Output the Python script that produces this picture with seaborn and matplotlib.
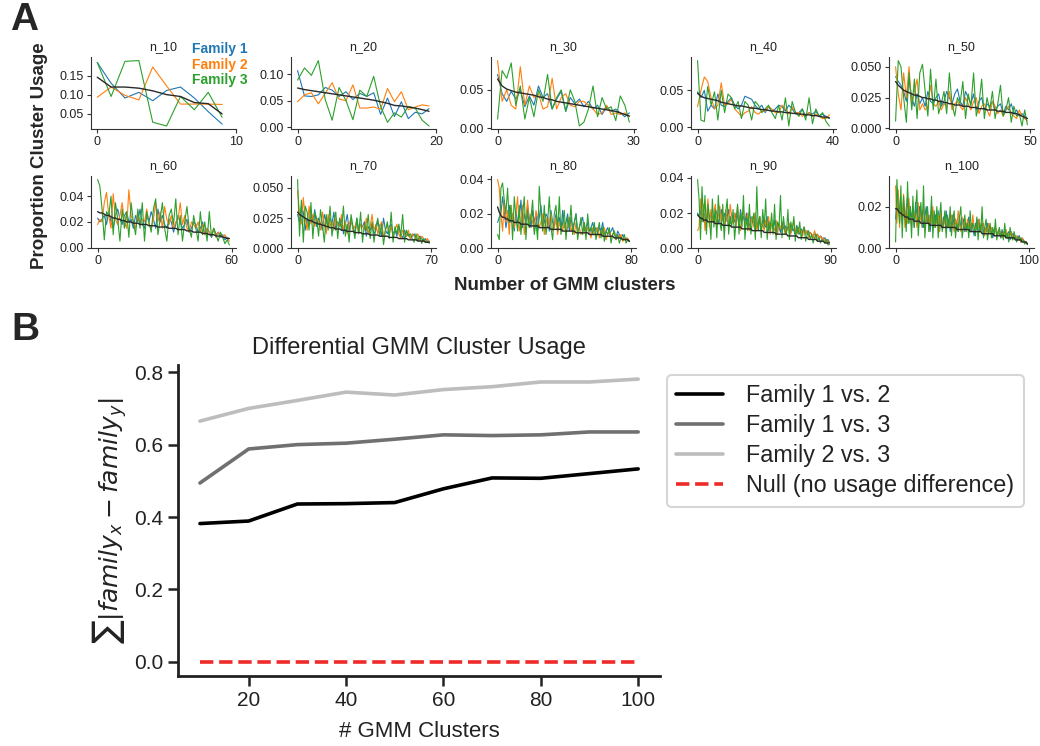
import numpy as np
import matplotlib
matplotlib.use("Agg")
import matplotlib.pyplot as plt
import seaborn as sns

# =====================================================================
# PANEL A DATA: proportion of cluster usage per family (values x 1000)
# =====================================================================
panel_sizes = [10, 20, 30, 40, 50, 60, 70, 80, 90, 100]
family_names = ["Family 1", "Family 2", "Family 3"]

f1_10 = [185, 130, 91, 106, 84, 111, 120, 91, 55, 22]
f2_10 = [93, 120, 98, 86, 173, 123, 75, 75, 75, 74]
f3_10 = [185, 95, 188, 190, 27, 17, 95, 60, 106, 40]
avg_10 = [146, 120, 120, 117, 110, 100, 95, 79, 76, 49]

f1_20 = [107, 59, 58, 61, 75, 70, 58, 67, 52, 64,
         58, 65, 24, 55, 20, 48, 16, 28, 25, 35]
f2_20 = [48, 61, 65, 44, 64, 84, 53, 50, 80, 36,
         36, 38, 34, 73, 48, 67, 33, 38, 42, 40]
f3_20 = [89, 112, 98, 126, 52, 13, 75, 50, 14, 70,
         58, 96, 39, 9, 27, 19, 39, 36, 13, 2]
avg_20 = [74, 71, 69, 67, 65, 63, 61, 59, 57, 55,
          53, 51, 48, 45, 41, 40, 38, 36, 33, 30]

f1_30 = [70, 45, 35, 48, 38, 50, 28, 42, 30, 55,
         40, 45, 25, 38, 48, 22, 40, 32, 38, 28,
         35, 25, 30, 18, 28, 22, 25, 20, 15, 20]
f2_30 = [88, 35, 50, 30, 25, 80, 30, 55, 40, 45,
         25, 28, 65, 25, 40, 45, 30, 28, 35, 35,
         30, 25, 18, 20, 30, 18, 20, 18, 20, 15]
f3_30 = [12, 75, 65, 85, 30, 55, 12, 40, 15, 50,
         35, 70, 25, 40, 50, 22, 50, 35, 3, 8,
         25, 55, 15, 40, 25, 28, 10, 42, 30, 8]
avg_30 = [64, 55, 51, 49, 47, 46, 45, 44, 43, 41,
          40, 38, 37, 35, 34, 33, 32, 31, 30, 29,
          28, 27, 26, 25, 24, 23, 22, 20, 18, 16]

f1_40 = [48, 40, 50, 22, 30, 25, 45, 30, 28, 35,
         40, 30, 25, 30, 42, 40, 38, 30, 25, 30,
         20, 28, 22, 25, 30, 28, 22, 30, 25, 18,
         20, 25, 15, 20, 18, 22, 15, 18, 15, 12]
f2_40 = [28, 50, 68, 62, 40, 25, 30, 60, 30, 32,
         38, 25, 20, 15, 20, 22, 28, 20, 18, 22,
         22, 28, 25, 20, 20, 30, 25, 18, 28, 20,
         20, 15, 18, 20, 15, 18, 15, 12, 12, 17]
f3_40 = [90, 10, 8, 55, 30, 48, 10, 50, 20, 45,
         40, 25, 35, 12, 35, 30, 10, 35, 30, 20,
         25, 30, 20, 12, 30, 10, 40, 2, 35, 20,
         15, 25, 10, 40, 5, 25, 15, 20, 8, 2]
avg_40 = [46, 42, 40, 39, 38, 37, 36, 34, 33, 32,
          31, 30, 29, 29, 28, 27, 26, 26, 25, 24,
          24, 23, 22, 22, 21, 21, 20, 20, 19, 19,
          18, 18, 17, 17, 16, 16, 15, 14, 14, 13]

f1_50 = [42, 38, 35, 30, 22, 40, 25, 18, 28, 20,
         25, 18, 30, 22, 20, 25, 28, 18, 22, 30,
         25, 20, 28, 32, 22, 18, 30, 25, 20, 28,
         15, 22, 25, 15, 20, 18, 22, 15, 18, 20,
         12, 18, 15, 20, 12, 15, 10, 12, 10, 8]
f2_50 = [50, 28, 15, 45, 25, 50, 18, 30, 40, 15,
         20, 15, 18, 35, 20, 18, 22, 15, 20, 18,
         30, 15, 20, 22, 18, 15, 25, 20, 15, 22,
         25, 12, 18, 20, 15, 10, 22, 18, 12, 15,
         10, 15, 18, 12, 10, 8, 15, 10, 8, 6]
f3_50 = [6, 55, 50, 25, 5, 45, 15, 40, 8, 45,
         52, 30, 10, 48, 15, 40, 12, 20, 30, 12,
         45, 20, 10, 25, 20, 38, 8, 28, 18, 45,
         10, 20, 40, 8, 25, 15, 30, 8, 20, 35,
         10, 15, 25, 5, 18, 10, 12, 2, 15, 3]
avg_50 = [38, 35, 33, 31, 30, 29, 28, 27, 27, 26,
          25, 25, 24, 24, 23, 23, 22, 22, 21, 21,
          20, 20, 19, 19, 19, 18, 18, 18, 17, 17,
          17, 16, 16, 16, 15, 15, 15, 15, 14, 14,
          14, 13, 13, 13, 12, 12, 11, 10, 9, 8]

f1_60 = [23, 20, 22, 25, 18, 28, 20, 15, 25, 30,
         22, 18, 25, 28, 20, 22, 15, 25, 20, 30,
         18, 15, 25, 20, 28, 22, 15, 30, 20, 25,
         18, 15, 22, 20, 12, 18, 25, 20, 15, 18,
         22, 12, 15, 20, 18, 12, 15, 20, 10, 15,
         12, 8, 15, 10, 12, 8, 10, 6, 8, 7]
f2_60 = [18, 22, 20, 35, 43, 25, 15, 42, 22, 18,
         25, 35, 20, 15, 45, 25, 20, 15, 28, 18,
         22, 20, 30, 18, 15, 22, 35, 20, 28, 15,
         32, 22, 18, 25, 15, 20, 22, 35, 18, 25,
         15, 12, 20, 18, 15, 20, 12, 18, 10, 15,
         12, 10, 15, 8, 12, 10, 8, 10, 7, 5]
f3_60 = [53, 48, 30, 6, 28, 25, 40, 10, 35, 22,
         5, 30, 15, 28, 8, 35, 20, 10, 30, 15,
         35, 5, 28, 20, 12, 30, 38, 10, 22, 35,
         15, 5, 25, 30, 18, 38, 10, 25, 5, 20,
         32, 15, 8, 25, 15, 5, 28, 10, 20, 5,
         28, 8, 15, 10, 5, 12, 8, 3, 6, 2]
avg_60 = [28, 27, 27, 26, 25, 25, 24, 23, 23, 22,
          22, 21, 21, 20, 20, 20, 19, 19, 19, 18,
          18, 18, 18, 17, 17, 17, 17, 16, 16, 16,
          16, 16, 15, 15, 15, 15, 14, 14, 14, 14,
          13, 13, 13, 12, 12, 12, 12, 11, 11, 11,
          10, 10, 10, 9, 9, 9, 8, 8, 7, 7]

f1_70 = [28, 22, 35, 30, 15, 25, 20, 28, 22, 32,
         18, 25, 20, 15, 28, 22, 18, 25, 20, 30,
         15, 22, 18, 25, 12, 20, 28, 15, 22, 18,
         12, 25, 15, 20, 18, 22, 10, 18, 15, 20,
         12, 15, 22, 18, 10, 25, 15, 12, 18, 20,
         12, 15, 10, 18, 12, 8, 15, 10, 12, 8,
         10, 12, 8, 6, 10, 8, 6, 8, 5, 6]
f2_70 = [48, 30, 20, 42, 25, 15, 35, 20, 28, 18,
         25, 22, 15, 30, 20, 12, 28, 18, 22, 15,
         25, 20, 18, 28, 15, 22, 12, 20, 25, 15,
         18, 22, 12, 20, 18, 15, 25, 12, 18, 28,
         15, 20, 12, 18, 22, 10, 15, 20, 12, 18,
         10, 15, 20, 12, 8, 15, 12, 10, 15, 8,
         12, 10, 8, 12, 6, 10, 8, 6, 8, 5]
f3_70 = [57, 10, 40, 5, 35, 30, 15, 38, 8, 30,
         25, 10, 32, 20, 5, 28, 15, 35, 10, 22,
         30, 8, 25, 15, 35, 10, 20, 5, 28, 18,
         8, 25, 12, 30, 5, 20, 15, 28, 8, 22,
         5, 18, 25, 10, 20, 3, 15, 22, 8, 30,
         5, 18, 12, 20, 10, 28, 5, 15, 10, 12,
         8, 5, 12, 6, 10, 4, 8, 5, 6, 4]
avg_70 = [30, 28, 27, 26, 25, 24, 23, 23, 22, 21,
          21, 20, 20, 19, 19, 18, 18, 17, 17, 17,
          16, 16, 16, 15, 15, 15, 14, 14, 14, 14,
          13, 13, 13, 13, 12, 12, 12, 12, 11, 11,
          11, 11, 11, 10, 10, 10, 10, 10, 9, 9,
          9, 9, 9, 8, 8, 8, 8, 8, 7, 7,
          7, 7, 7, 6, 6, 6, 6, 5, 5, 5]

f1_80 = [15, 18, 20, 30, 22, 12, 18, 25, 15, 20,
         10, 22, 15, 18, 28, 12, 20, 15, 25, 18,
         12, 22, 15, 20, 10, 18, 25, 12, 15, 20,
         18, 10, 22, 15, 12, 20, 15, 18, 10, 22,
         12, 15, 20, 10, 18, 12, 15, 20, 10, 12,
         15, 18, 10, 12, 15, 8, 12, 15, 10, 12,
         8, 12, 10, 15, 8, 10, 12, 8, 10, 12,
         8, 6, 10, 8, 6, 8, 5, 6, 5, 4]
f2_80 = [40, 35, 20, 10, 28, 15, 22, 8, 25, 18,
         12, 20, 30, 10, 15, 25, 8, 18, 28, 12,
         20, 15, 10, 22, 18, 12, 15, 20, 8, 18,
         12, 15, 20, 10, 12, 18, 8, 15, 12, 10,
         15, 8, 12, 18, 10, 12, 8, 15, 10, 12,
         8, 10, 15, 8, 12, 10, 6, 12, 8, 10,
         12, 6, 10, 8, 12, 5, 8, 10, 6, 8,
         10, 5, 8, 6, 8, 4, 6, 5, 6, 4]
f3_80 = [8, 5, 35, 38, 28, 20, 35, 15, 25, 5,
         30, 18, 10, 25, 8, 20, 30, 5, 22, 12,
         18, 28, 8, 15, 5, 36, 20, 10, 25, 8,
         15, 30, 12, 5, 20, 25, 10, 30, 8, 15,
         22, 5, 18, 12, 25, 8, 15, 20, 5, 12,
         18, 8, 15, 5, 20, 10, 12, 8, 15, 5,
         10, 15, 6, 12, 4, 10, 8, 12, 3, 8,
         10, 5, 8, 3, 6, 5, 8, 3, 5, 4]
avg_80 = [24, 21, 19, 18, 18, 17, 17, 16, 16, 16,
          15, 15, 15, 15, 14, 14, 14, 14, 14, 13,
          13, 13, 13, 13, 13, 12, 12, 12, 12, 12,
          12, 12, 11, 11, 11, 11, 11, 11, 11, 10,
          10, 10, 10, 10, 10, 10, 10, 9, 9, 9,
          9, 9, 9, 9, 9, 8, 8, 8, 8, 8,
          8, 8, 8, 7, 7, 7, 7, 7, 7, 7,
          6, 6, 6, 6, 6, 5, 5, 5, 5, 4]

f1_90 = [20, 18, 22, 15, 20, 18, 14, 22, 16, 20,
         18, 15, 22, 20, 14, 18, 22, 16, 20, 15,
         18, 22, 14, 20, 17, 15, 20, 18, 13, 22,
         16, 18, 14, 20, 15, 12, 18, 16, 14, 20,
         12, 15, 18, 10, 16, 14, 12, 18, 10, 15,
         13, 11, 16, 10, 14, 12, 9, 15, 11, 13,
         10, 12, 14, 9, 12, 10, 8, 13, 10, 8,
         11, 9, 12, 8, 10, 7, 9, 8, 6, 9,
         7, 8, 5, 7, 6, 5, 6, 4, 5, 3]
f2_90 = [10, 12, 28, 15, 25, 10, 18, 28, 12, 22,
         15, 20, 25, 12, 18, 24, 14, 20, 10, 22,
         16, 12, 25, 18, 14, 20, 12, 24, 16, 10,
         18, 22, 12, 16, 20, 10, 14, 18, 12, 20,
         10, 15, 18, 12, 14, 10, 16, 12, 18, 8,
         14, 12, 10, 16, 8, 14, 12, 10, 15, 8,
         12, 10, 14, 8, 12, 16, 10, 8, 12, 9,
         10, 7, 12, 8, 10, 6, 9, 8, 6, 10,
         5, 8, 6, 7, 5, 6, 4, 5, 3, 4]
f3_90 = [39, 28, 5, 35, 15, 30, 8, 25, 18, 5,
         28, 12, 22, 6, 30, 15, 10, 25, 5, 20,
         28, 8, 18, 12, 22, 5, 15, 25, 8, 20,
         12, 30, 5, 18, 10, 25, 8, 15, 20, 5,
         35, 10, 18, 6, 22, 12, 28, 5, 15, 10,
         20, 8, 25, 5, 15, 12, 30, 6, 18, 10,
         8, 22, 5, 15, 10, 18, 4, 12, 8, 15,
         5, 10, 12, 4, 8, 10, 5, 8, 3, 6,
         8, 4, 6, 3, 5, 4, 3, 5, 2, 2]
avg_90 = [19, 18, 17, 17, 16, 16, 16, 15, 15, 15,
          15, 15, 14, 14, 14, 14, 14, 13, 13, 13,
          13, 13, 13, 12, 12, 12, 12, 12, 12, 12,
          11, 11, 11, 11, 11, 11, 11, 10, 10, 10,
          10, 10, 10, 10, 10, 9, 9, 9, 9, 9,
          9, 9, 9, 8, 8, 8, 8, 8, 8, 8,
          8, 7, 7, 7, 7, 7, 7, 7, 6, 6,
          6, 6, 6, 6, 6, 5, 5, 5, 5, 5,
          5, 4, 4, 4, 4, 4, 3, 3, 3, 3]

f1_100 = [14, 22, 26, 18, 20, 12, 22, 15, 18, 25,
          12, 20, 15, 18, 10, 22, 16, 12, 20, 14,
          18, 10, 15, 20, 12, 16, 8, 18, 14, 10,
          16, 12, 18, 8, 14, 10, 15, 12, 18, 10,
          14, 8, 12, 16, 10, 14, 12, 8, 15, 10,
          12, 14, 8, 12, 10, 15, 8, 12, 10, 6,
          12, 9, 14, 8, 10, 12, 6, 10, 8, 12,
          7, 10, 8, 5, 9, 10, 6, 8, 7, 5,
          9, 6, 8, 5, 7, 8, 4, 6, 7, 5,
          6, 4, 5, 6, 3, 5, 4, 3, 3, 2]
f2_100 = [30, 12, 28, 10, 22, 15, 26, 10, 20, 12,
          24, 15, 10, 20, 14, 18, 10, 22, 12, 16,
          10, 20, 14, 12, 18, 8, 16, 12, 20, 10,
          14, 12, 16, 8, 18, 12, 10, 15, 8, 14,
          12, 10, 16, 12, 8, 14, 10, 18, 12, 8,
          15, 10, 12, 8, 14, 10, 12, 8, 16, 10,
          8, 12, 10, 14, 8, 10, 12, 6, 10, 8,
          12, 7, 10, 9, 6, 10, 8, 6, 9, 7,
          5, 8, 6, 9, 5, 7, 6, 8, 4, 6,
          5, 6, 4, 5, 3, 5, 4, 3, 3, 2]
f3_100 = [3, 33, 20, 12, 30, 5, 25, 15, 8, 32,
          12, 20, 5, 25, 10, 18, 28, 6, 15, 22,
          10, 30, 5, 15, 20, 8, 12, 25, 5, 18,
          10, 20, 5, 15, 22, 8, 12, 18, 5, 16,
          10, 20, 6, 14, 18, 5, 12, 8, 15, 20,
          5, 10, 16, 8, 12, 5, 18, 8, 12, 10,
          6, 15, 4, 12, 8, 20, 5, 10, 14, 4,
          8, 12, 5, 10, 6, 14, 4, 8, 10, 5,
          8, 4, 12, 5, 7, 3, 10, 6, 4, 8,
          5, 3, 6, 4, 5, 3, 4, 2, 3, 2]
avg_100 = [19, 19, 18, 17, 17, 16, 16, 15, 15, 15,
           14, 14, 14, 14, 13, 13, 13, 13, 13, 12,
           12, 12, 12, 12, 12, 12, 11, 11, 11, 11,
           11, 11, 11, 11, 11, 10, 10, 10, 10, 10,
           10, 10, 10, 10, 10, 10, 9, 9, 9, 9,
           9, 9, 9, 9, 9, 9, 8, 8, 8, 8,
           8, 8, 8, 8, 8, 7, 7, 7, 7, 7,
           7, 7, 7, 7, 6, 6, 6, 6, 6, 6,
           6, 6, 6, 5, 5, 5, 5, 5, 5, 5,
           4, 4, 4, 4, 4, 3, 3, 3, 3, 2]

panel_yticks = [[0.05, 0.10, 0.15], [0.00, 0.05, 0.10], [0.00, 0.05], [0.00, 0.05],
                [0.000, 0.025, 0.050], [0.00, 0.02, 0.04], [0.000, 0.025, 0.050],
                [0.00, 0.02, 0.04], [0.00, 0.02, 0.04], [0.00, 0.02]]

# =====================================================================
# PANEL B DATA: summed absolute usage difference between families
# =====================================================================
n_clusters = [10, 20, 30, 40, 50, 60, 70, 80, 90, 100]
diff_1v2 = [0.382, 0.389, 0.436, 0.437, 0.440, 0.478, 0.508, 0.507, 0.520, 0.533]
diff_1v3 = [0.494, 0.588, 0.600, 0.604, 0.615, 0.627, 0.625, 0.627, 0.635, 0.635]
diff_2v3 = [0.665, 0.700, 0.722, 0.745, 0.737, 0.752, 0.760, 0.773, 0.773, 0.781]
null_diff = [0, 0, 0, 0, 0, 0, 0, 0, 0, 0]
pair_labels = ["Family 1 vs. 2", "Family 1 vs. 3", "Family 2 vs. 3",
               "Null (no usage difference)"]

panel_series = [
    (f1_10, f2_10, f3_10, avg_10), (f1_20, f2_20, f3_20, avg_20),
    (f1_30, f2_30, f3_30, avg_30), (f1_40, f2_40, f3_40, avg_40),
    (f1_50, f2_50, f3_50, avg_50), (f1_60, f2_60, f3_60, avg_60),
    (f1_70, f2_70, f3_70, avg_70), (f1_80, f2_80, f3_80, avg_80),
    (f1_90, f2_90, f3_90, avg_90), (f1_100, f2_100, f3_100, avg_100),
]

# =====================================================================
# FIGURE
# =====================================================================
sns.set_theme(style="ticks")
plt.rcParams['font.family'] = ['Liberation Sans', 'DejaVu Sans']
plt.rcParams['axes.edgecolor'] = '#333333'

fig = plt.figure(figsize=(10.4, 7.46), dpi=100)
fam_colors = ['#1f77b4', '#ff7f0e', '#2ca02c']

col_left = [0.0875, 0.2798, 0.4721, 0.6644, 0.8548]
row_bottom = [0.8267, 0.6672]

first_ax = None
for i, n in enumerate(panel_sizes):
    ax = fig.add_axes([col_left[i % 5], row_bottom[i // 5], 0.1394, 0.0965])
    *fams, avg = panel_series[i]
    for vals, c, name in zip(fams, fam_colors, family_names):
        y = np.array(vals) / 1000
        sns.lineplot(x=np.arange(len(y)), y=y, ax=ax, color=c, lw=0.8,
                     label=name if i == 0 else None, legend=False)
    ya = np.array(avg) / 1000
    sns.lineplot(x=np.arange(len(ya)), y=ya, ax=ax, color='#2a2a2a', lw=1.0, legend=False)
    ax.set_xticks([0, n])
    ax.set_yticks(panel_yticks[i])
    ax.set_xlabel('')
    ax.set_ylabel('')
    ax.set_title(f"n_{n}", fontsize=9, pad=5, color='#222222')
    ax.tick_params(labelsize=9, length=3, width=0.8, pad=2, colors='#333333',
                   labelcolor='#222222')
    for s in ax.spines.values():
        s.set_linewidth(0.8)
    sns.despine(ax=ax)
    if i == 0:
        first_ax = ax

# family colour key, text only
first_ax.legend(loc='upper left', bbox_to_anchor=(192 / 1040, 1 - 42 / 746),
                bbox_transform=fig.transFigure, frameon=False, handlelength=0,
                handletextpad=0, labelcolor='linecolor', borderpad=0,
                borderaxespad=0, labelspacing=0.12,
                prop={'weight': 'bold', 'size': 10})
for h in first_ax.get_legend().legend_handles:
    h.set_visible(False)

fig.text(24 / 1040, 1 - 20 / 746, 'A', fontsize=28, fontweight='bold', ha='center', va='center')
fig.text(40 / 1040, 1 - 156 / 746, 'Proportion Cluster Usage', fontsize=13.5,
         fontweight='bold', rotation=90, ha='center', va='center')
fig.text(565 / 1040, 1 - 286 / 746, 'Number of GMM clusters', fontsize=13.5,
         fontweight='bold', ha='center', va='center')
fig.text(25 / 1040, 1 - 330 / 746, 'B', fontsize=28, fontweight='bold', ha='center', va='center')

# --- Panel B ---
axb = fig.add_axes([0.1712, 0.0938, 0.4635, 0.417])
pair_colors = ['black', '#707070', '#bdbdbd']
for vals, c, lab in zip([diff_1v2, diff_1v3, diff_2v3], pair_colors, pair_labels):
    sns.lineplot(x=n_clusters, y=vals, ax=axb, color=c, lw=2.6, label=lab)
sns.lineplot(x=n_clusters, y=null_diff, ax=axb, color='#ee2a2a', lw=2.6,
             linestyle='--', label=pair_labels[3])

axb.set_yticks([0.0, 0.2, 0.4, 0.6, 0.8])
axb.set_xticks([20, 40, 60, 80, 100])
axb.set_title('Differential GMM Cluster Usage', fontsize=17, color='#222222', pad=8)
axb.set_xlabel('# GMM Clusters', fontsize=16, color='#222222', labelpad=8)
axb.set_ylabel(r'$\sum|family_x - family_y|$', fontsize=18, color='#222222', labelpad=4)
axb.tick_params(labelsize=15, length=7, width=1.8, colors='#222222')
for s in axb.spines.values():
    s.set_linewidth(2.0)
    s.set_color('#222222')
sns.despine(ax=axb)

leg = axb.legend(loc='upper left', bbox_to_anchor=(667 / 1040, 1 - 375 / 746),
                 bbox_transform=fig.transFigure, borderaxespad=0, fontsize=16.8,
                 labelspacing=0.3, handletextpad=1.0, handlelength=2.0,
                 frameon=True, fancybox=True)
leg.get_frame().set_edgecolor('#cccccc')
leg.get_frame().set_linewidth(1.5)
for t in leg.get_texts():
    t.set_color('#222222')

fig.savefig('out.png', dpi=100)
